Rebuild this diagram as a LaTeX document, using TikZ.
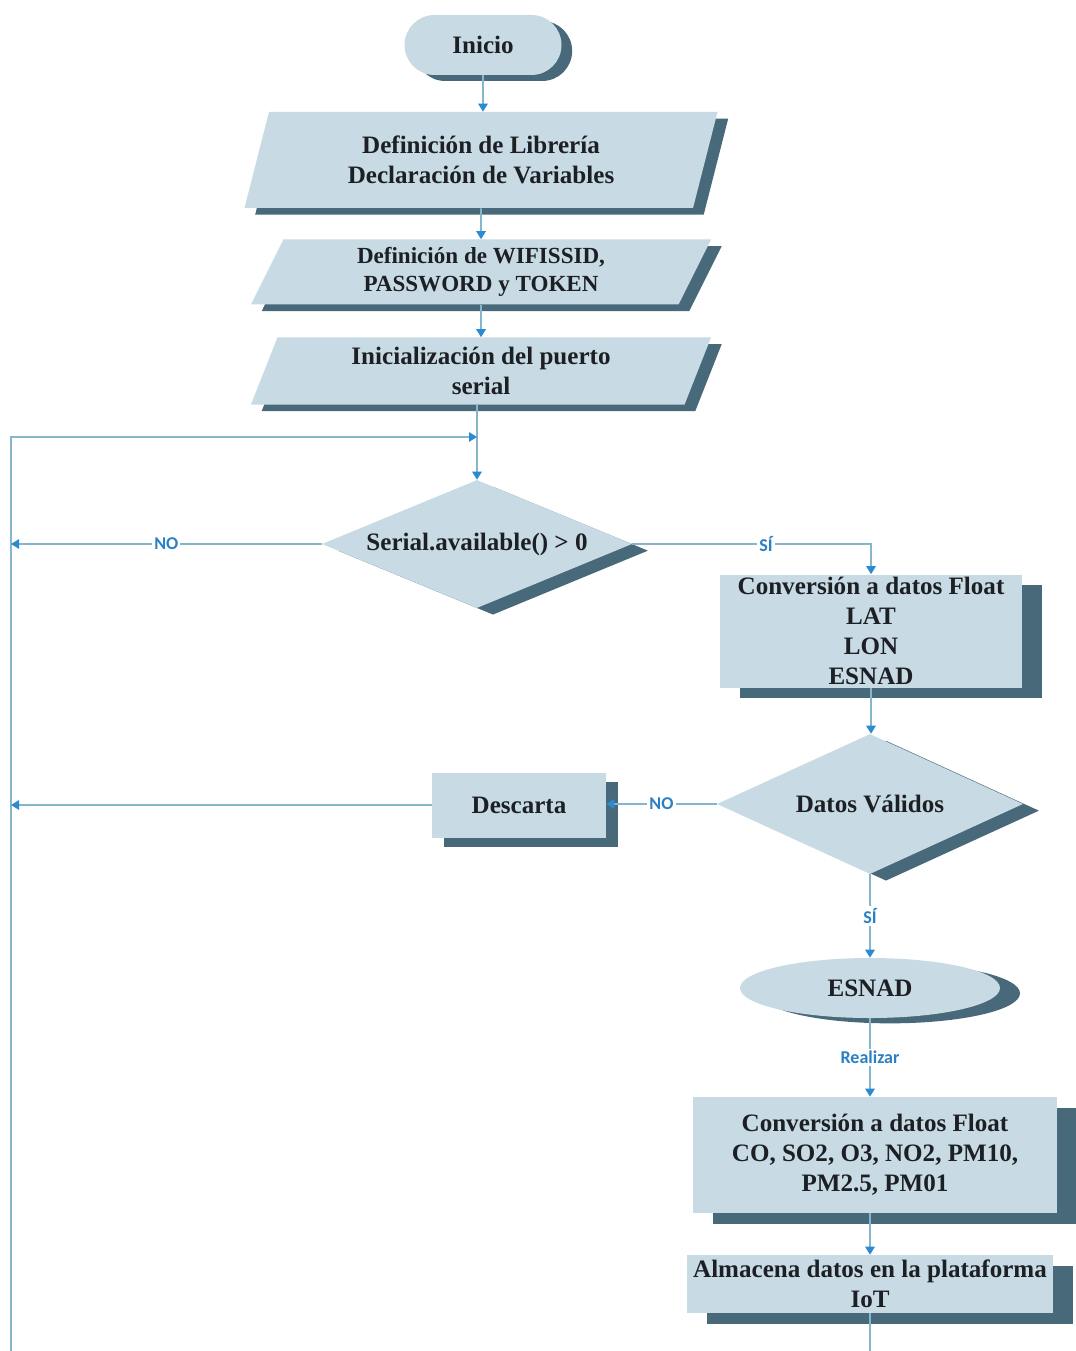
\documentclass[tikz,border=0pt]{standalone}
\usepackage{fontspec}
\setmainfont{Liberation Serif}
\newfontfamily\lblfont{Carlito}
\usetikzlibrary{shapes.geometric,shapes.misc,shadows,arrows.meta,calc}
\definecolor{faceC}{HTML}{C8DBE4}
\definecolor{shadowC}{HTML}{47697A}
\definecolor{lineC}{HTML}{86B6CB}
\definecolor{arrowC}{HTML}{2A8BD0}
\definecolor{lblC}{HTML}{2A80C4}
\definecolor{txtC}{HTML}{1C1F24}
\begin{document}
\begin{tikzpicture}[x=0.75pt,y=-0.75pt,
  base/.style={fill=faceC, text=txtC, align=center, inner sep=0pt,
    font=\bfseries\fontsize{18.8}{22.5}\selectfont},
  sh/.style 2 args={general shadow={fill=shadowC, shadow xshift=#1, shadow yshift=#2}},
  boxn/.style={base, rectangle, sh={15pt}{-8pt}},
  para/.style={base, trapezium, trapezium stretches body, sh={8pt}{-5pt}},
  decision/.style={base, diamond, sh={12pt}{-5pt}},
  conn/.style={draw=lineC, line width=1.3pt},
  arr/.style={-{Triangle[length=6pt,width=7pt,color=arrowC]}},
  lbl/.style={fill=white, text=lblC, inner sep=1.5pt,
    font=\lblfont\bfseries\fontsize{13.5}{15}\selectfont}
]
\fill[white] (0,0) rectangle (1075,1351);
\useasboundingbox (0,0) rectangle (1075,1351);

% nodes
\node[base, rounded rectangle, sh={8pt}{-4.5pt}, minimum width=117.75pt, minimum height=45pt]
  (start) at (483,45) {Inicio};
\node[para, trapezium left angle=63, trapezium right angle=117,
  minimum width=354.75pt, minimum height=72pt] (p1) at (481,160)
  {Definición de Librería\\Declaración de Variables};
\node[para, trapezium left angle=57, trapezium right angle=123,
  minimum width=345pt, minimum height=48.75pt,
  font=\bfseries\fontsize{17.3}{21.5}\selectfont] (p2) at (481,272)
  {Definición de WIFISSID,\\PASSWORD y TOKEN};
\node[para, trapezium left angle=61, trapezium right angle=119,
  minimum width=345pt, minimum height=50.25pt] (p3) at (481,371)
  {Inicialización del puerto\\serial};
\node[decision, aspect=2.4, minimum width=232.5pt, minimum height=96pt] (d1) at (477,544)
  {Serial.available() > 0};
\node[boxn, minimum width=226.5pt, minimum height=84.75pt] (b1) at (871,631)
  {Conversión a datos Float\\LAT\\LON\\ESNAD};
\node[decision, aspect=2.2, minimum width=229.5pt, minimum height=105pt] (d2) at (870,804)
  {Datos Válidos};
\node[base, rectangle, sh={9pt}{-7pt}, minimum width=130.5pt, minimum height=48.75pt]
  (desc) at (519,805) {Descarta};
\node[base, ellipse, sh={15pt}{-4pt}, minimum width=195pt, minimum height=45pt]
  (esnad) at (870,988) {ESNAD};
\node[boxn, minimum width=273pt, minimum height=87pt] (b2) at (875,1155)
  {Conversión a datos Float\\CO, SO2, O3, NO2, PM10,\\PM2.5, PM01};
\node[boxn, minimum width=274.5pt, minimum height=43.5pt] (b3) at (870,1284)
  {Almacena datos en la plataforma\\IoT};

% free ends
\coordinate (loopB) at (11,1351);
\coordinate (merge) at (477,437);
\coordinate (endB) at (870,1351);

% connectors
\draw[conn,arr] (start.south) -- (start.south |- p1.north);
\draw[conn,arr] (p1.south) -- (p2.north);
\draw[conn,arr] (p2.south) -- (p3.north);
\draw[conn,arr] (d1.north |- p3.south) -- (d1.north);
\draw[conn,arr] (loopB) |- (merge);
\draw[conn,arr] (d1.west) -- (d1.west -| loopB) node[lbl,pos=0.5] {NO};
\draw[conn,arr] (d1.east) -| (b1.north) node[lbl,pos=0.28] {SÍ};
\draw[conn,arr] (b1.south) -- (b1.south |- d2.north);
\draw[conn,arr] (d2.west) -- (d2.west -| desc.east) node[lbl,pos=0.5] {NO};
\draw[conn,arr] (desc.west) -- (desc.west -| loopB);
\draw[conn,arr] (d2.south) -- (d2.south |- esnad.north) node[lbl,pos=0.5] {SÍ};
\draw[conn,arr] (esnad.south) -- (esnad.south |- b2.north) node[lbl,pos=0.5] {Realizar};
\draw[conn,arr] (b2.south -| b3.north) -- (b3.north);
\draw[conn] (b3.south) -- (endB);
\end{tikzpicture}
\end{document}
